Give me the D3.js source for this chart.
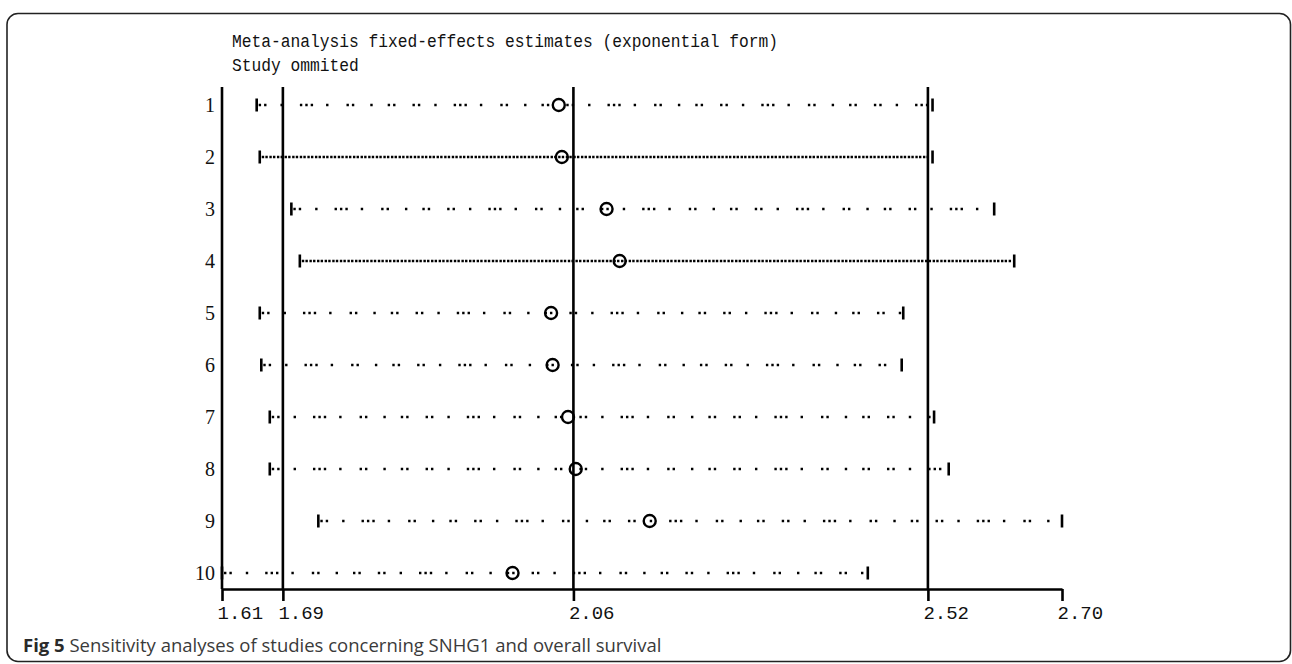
<!DOCTYPE html>
<html>
<head>
<meta charset="utf-8">
<script src="https://cdn.jsdelivr.net/npm/d3@7"></script>
<style>
  html, body { margin: 0; padding: 0; background: #fff; }
  svg { display: block; }
</style>
</head>
<body>
<svg id="chart" width="1292" height="664"></svg>
<script>
// ---- data ----
const studies = ["1","2","3","4","5","6","7","8","9","10"];
const estimate = [2.047, 2.051, 2.109, 2.126, 2.037, 2.039, 2.059, 2.069, 2.165, 1.987];
const lower    = [1.655, 1.659, 1.700, 1.711, 1.659, 1.661, 1.672, 1.672, 1.735, 1.610];
const upper    = [2.532, 2.532, 2.612, 2.638, 2.494, 2.492, 2.534, 2.553, 2.700, 2.448];
const tickValues = [1.61, 1.689, 2.066, 2.526, 2.70];
const tickLabels = ["1.61", "1.69", "2.06", "2.52", "2.70"];
const refLines = [1.61, 1.689, 2.066, 2.526];   // axis start, overall lower CI, estimate, upper CI
const titleLines = ["Meta-analysis fixed-effects estimates (exponential form)", "Study ommited"];
const captionBold = "Fig 5";
const captionText = " Sensitivity analyses of studies concerning SNHG1 and overall survival";

// ---- drawing ----
const svg = d3.select("#chart");

// outer rounded border
svg.append("rect")
  .attr("x", 7).attr("y", 13.5).attr("width", 1283.5).attr("height", 648)
  .attr("rx", 11).attr("ry", 11)
  .attr("fill", "none").attr("stroke", "#222").attr("stroke-width", 1.6);

const x = d3.scaleLinear().domain([1.61, 2.70]).range([222, 1062]);
const y = d3.scalePoint().domain(studies).range([105, 573]);
const axisY = 589;
const topY = 87;

// title
const title = svg.append("g");
titleLines.forEach((t, i) => {
  title.append("text")
    .attr("x", 232).attr("y", 47 + i * 23.5)
    .attr("font-family", "'Liberation Mono', 'DejaVu Sans Mono', monospace")
    .attr("font-size", 19)
    .attr("fill", "#111")
    .attr("textLength", t.length * 9.75)
    .attr("lengthAdjust", "spacingAndGlyphs")
    .text(t);
});

// vertical reference lines
svg.append("g").selectAll("line").data(refLines).join("line")
  .attr("x1", d => x(d)).attr("x2", d => x(d))
  .attr("y1", topY).attr("y2", axisY)
  .attr("stroke", "#000").attr("stroke-width", 2.6);

// x axis
const axis = d3.axisBottom(x)
  .tickValues(tickValues)
  .tickFormat((d, i) => tickLabels[i])
  .tickSizeInner(12).tickSizeOuter(0).tickPadding(4);
const gx = svg.append("g").attr("transform", `translate(0,${axisY})`).call(axis);
gx.select(".domain").attr("stroke", "#000").attr("stroke-width", 2.6);
gx.selectAll(".tick line").attr("stroke", "#000").attr("stroke-width", 2.6);
gx.selectAll(".tick text")
  .attr("font-family", "'Liberation Mono', 'DejaVu Sans Mono', monospace")
  .attr("font-size", 19)
  .attr("fill", "#111")
  .attr("text-anchor", "start")
  .attr("x", -5)
  .attr("y", 15)
  .attr("dy", "0.8em");

// row labels
svg.append("g").selectAll("text").data(studies).join("text")
  .attr("x", 215).attr("y", d => y(d))
  .attr("dy", "0.35em")
  .attr("text-anchor", "end")
  .attr("font-family", "'Liberation Serif', 'DejaVu Serif', serif")
  .attr("font-size", 20)
  .attr("fill", "#111")
  .text(d => d);

// rows
const denseRows = new Set(["2", "4"]);
const sparseDash = "2.4,3,2.4,14,2.4,17,2.4,3,2.4,3,2.4,13,2.4,18,2.4,3,2.4,16,2.4,15,2.4,3,2.4,17";
const rows = svg.append("g").selectAll("g").data(studies).join("g");

rows.append("line")
  .attr("x1", (d, i) => x(lower[i]) + 2)
  .attr("x2", (d, i) => x(upper[i]) - 2)
  .attr("y1", d => y(d)).attr("y2", d => y(d))
  .attr("stroke", "#000")
  .attr("stroke-width", d => denseRows.has(d) ? 2.6 : 2.4)
  .attr("stroke-dasharray", d => denseRows.has(d) ? "2.4,1.2,2.4,1.6" : sparseDash);

rows.append("line")
  .attr("x1", (d, i) => x(lower[i])).attr("x2", (d, i) => x(lower[i]))
  .attr("y1", d => y(d) - 6.5).attr("y2", d => y(d) + 6.5)
  .attr("stroke", "#000").attr("stroke-width", 2.6);

rows.append("line")
  .attr("x1", (d, i) => x(upper[i])).attr("x2", (d, i) => x(upper[i]))
  .attr("y1", d => y(d) - 6.5).attr("y2", d => y(d) + 6.5)
  .attr("stroke", "#000").attr("stroke-width", 2.6);

rows.append("circle")
  .attr("cx", (d, i) => x(estimate[i]))
  .attr("cy", d => y(d))
  .attr("r", 6)
  .attr("fill", "none")
  .attr("stroke", "#000")
  .attr("stroke-width", 2.4);

// caption
const cap = svg.append("text")
  .attr("x", 23).attr("y", 652)
  .attr("font-family", "'Open Sans', 'Noto Sans', sans-serif")
  .attr("font-size", 18.5)
  .attr("fill", "#3a3a3a");
cap.append("tspan").attr("font-weight", "bold").attr("fill", "#2a2a2a").text(captionBold);
cap.append("tspan").text(captionText);
</script>
</body>
</html>
